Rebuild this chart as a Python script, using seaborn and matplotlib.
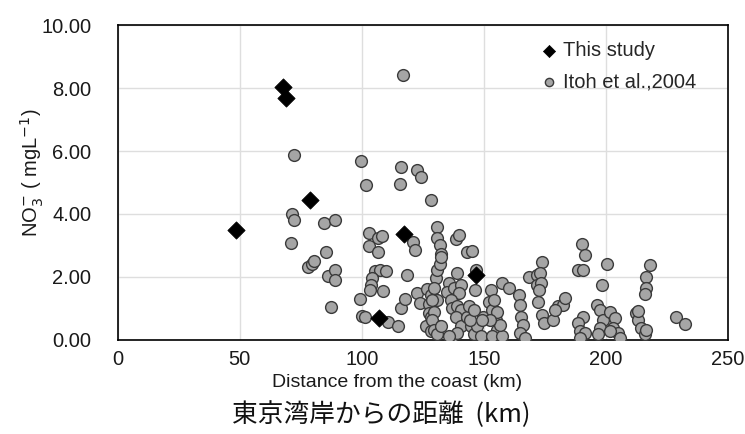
import matplotlib
matplotlib.use("Agg")
import matplotlib.pyplot as plt
import seaborn as sns

# This study
study_dist = [48.4, 67.8, 68.8, 78.8, 107.2, 117.2, 146.6]
study_no3 = [3.50, 8.02, 7.70, 4.44, 0.69, 3.36, 2.05]

# Itoh et al., 2004
itoh_dist = [
    72.1, 71.4, 72.1, 84.7, 89.2, 70.9, 85.2, 78.0, 79.8, 80.5, 86.2, 88.9, 88.9, 87.5,
    116.8, 99.5, 116.1, 122.6, 124.2, 101.9, 115.7, 128.4, 103.1, 106.8, 108.4, 103.0,
    106.8, 120.8, 121.9, 130.7, 131.0, 132.1, 132.4, 138.5, 139.8, 143.3, 145.3, 146.6,
    105.5, 107.6, 109.9, 104.1, 103.8, 103.5, 108.7, 118.5, 99.1, 100.2, 101.4, 110.9,
    115.0, 116.1, 117.7, 122.6, 126.7, 128.3, 123.9, 127.6, 127.6, 128.3, 126.3, 128.3,
    130.3, 130.8, 132.1, 132.4, 129.7, 131.0, 131.7, 136.4, 128.9, 129.4, 128.9, 129.6,
    130.8, 139.2, 135.8, 134.8, 137.8, 140.5, 139.8, 136.4, 137.1, 139.2, 140.5, 138.5,
    140.5, 139.2, 135.8, 132.4, 146.2, 144.6, 146.0, 147.3, 148.7, 143.3, 144.3, 149.8,
    152.8, 152.1, 153.4, 154.8, 155.5, 153.4, 157.5, 156.8, 155.5, 152.5, 157.5, 160.2,
    164.3, 165.0, 165.3, 166.1, 164.7, 167.0, 168.4, 171.8, 171.8, 173.8, 173.1, 173.4,
    172.8, 172.4, 173.8, 174.5, 178.3, 180.6, 182.6, 183.3, 179.1, 190.1, 191.5, 188.8,
    190.8, 200.3, 198.3, 190.8, 188.8, 189.4, 191.5, 189.4, 196.2, 197.6, 198.9, 197.6,
    196.9, 201.7, 203.7, 203.1, 205.1, 201.7, 205.8, 212.5, 213.2, 218.3, 216.3, 216.3,
    215.9, 213.2, 214.6, 215.9, 216.6, 228.9, 232.6, 143.9, 145.9, 149.3, 154.1,
]
itoh_no3 = [
    5.86, 4.01, 3.81, 3.71, 3.80, 3.07, 2.79, 2.30, 2.40, 2.49, 2.03, 2.21, 1.90, 1.04,
    8.42, 5.69, 5.48, 5.39, 5.17, 4.93, 4.96, 4.43, 3.38, 3.24, 3.31, 2.97,
    2.79, 3.10, 2.86, 3.60, 3.24, 3.00, 2.74, 3.21, 3.34, 2.79, 2.82, 2.23,
    2.19, 2.23, 2.19, 1.95, 1.74, 1.58, 1.56, 2.05, 1.29, 0.76, 0.74, 0.58,
    0.43, 1.01, 1.29, 1.50, 1.60, 1.42, 1.16, 1.14, 0.85, 0.74, 0.43, 0.27,
    1.95, 2.21, 2.40, 2.63, 1.64, 1.27, 0.43, 0.03, 1.27, 0.90, 0.64, 0.32,
    0.17, 2.11, 1.79, 1.53, 1.64, 1.74, 1.48, 1.27, 1.01, 1.06, 0.95, 0.74,
    0.43, 0.22, 0.12, 0.43, 1.58, 0.43, 0.17, 0.43, 0.11, 0.74, 0.64, 0.74,
    1.58, 1.21, 0.95, 0.64, 0.32, 0.11, 0.11, 0.48, 0.90, 0.64, 1.79, 1.64,
    1.42, 1.11, 0.74, 0.48, 0.22, 0.06, 2.00, 2.05, 1.74, 2.47, 2.11, 1.79,
    1.58, 1.21, 0.80, 0.53, 0.64, 1.06, 1.11, 1.32, 0.95, 3.03, 2.71, 2.23,
    2.23, 2.42, 1.74, 0.74, 0.53, 0.27, 0.22, 0.06, 1.11, 0.95, 0.64, 0.38,
    0.17, 0.90, 0.69, 0.38, 0.22, 0.27, 0.06, 0.85, 0.64, 2.37, 2.00, 1.64,
    1.46, 0.93, 0.38, 0.17, 0.32, 0.72, 0.51, 1.06, 0.95, 0.64, 1.27,
]

x_ticks = [0, 50, 100, 150, 200, 250]
y_ticks = [0, 2, 4, 6, 8, 10]

sns.set_style("white")
plt.rcParams['font.family'] = ['Liberation Sans', 'DejaVu Sans']

fig = plt.figure(figsize=(7.45, 4.34), dpi=100)
ax = fig.add_axes([0.158, 0.217, 0.819, 0.725])

sns.scatterplot(x=itoh_dist, y=itoh_no3, ax=ax, marker='o', s=72,
                color='#a5a5a5', edgecolor='#3a3a3a', linewidth=1.0,
                label='Itoh et al.,2004', zorder=3)
sns.scatterplot(x=study_dist, y=study_no3, ax=ax, marker='D', s=78,
                color='black', edgecolor='black', linewidth=0.5,
                label='This study', zorder=4)

ax.set_xlim(0, 250)
ax.set_ylim(0, 10)
ax.set_xticks(x_ticks)
ax.set_yticks(y_ticks)
ax.set_yticklabels([f"{v:.2f}" for v in y_ticks])
ax.grid(True, color='#dedede', linewidth=1.0)
ax.set_axisbelow(True)
for sp in ax.spines.values():
    sp.set_color('black')
    sp.set_linewidth(1.2)
ax.tick_params(axis='both', length=0, labelsize=14.5, colors='#1a1a1a')
ax.tick_params(axis='y', pad=19)
ax.tick_params(axis='x', pad=7)

ax.set_xlabel('Distance from the coast (km)', fontsize=14, color='#1a1a1a')
ax.xaxis.set_label_coords(0.458, -0.108)
ax.set_ylabel(r'NO$_3^{-}$ ( mgL$^{-1}$)', fontsize=14.5, color='#1a1a1a')
ax.yaxis.set_label_coords(-0.118, 0.53)

handles, labels = ax.get_legend_handles_labels()
ax.legend(handles[::-1], labels[::-1], loc='upper left', bbox_to_anchor=(0.66, 1.007),
          frameon=False, fontsize=14.5, handletextpad=0.2, labelspacing=0.6,
          markerscale=0.7, handlelength=1.0)

fig.text(0.512, 0.044, '東京湾岸からの距離  (km)', ha='center', va='center', fontsize=18.5,
         family=['Noto Sans CJK JP', 'DejaVu Sans'], color='#111111')

fig.savefig('out.png', dpi=100)
